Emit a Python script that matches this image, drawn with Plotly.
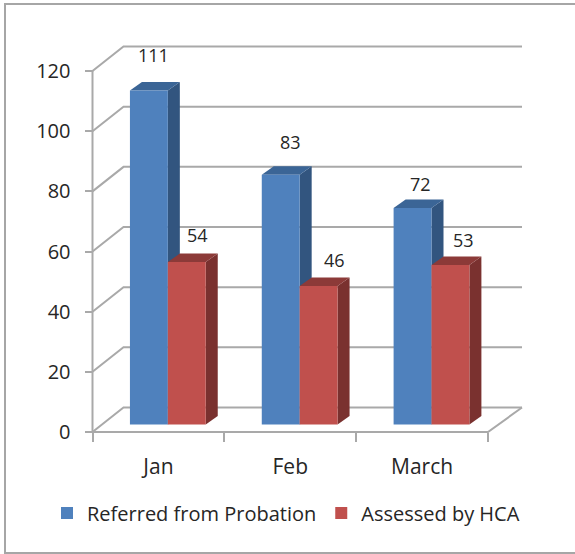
import plotly.graph_objects as go

categories = ["Jan", "Feb", "March"]
referred = [111, 83, 72]
assessed = [54, 46, 53]
series_names = ["Referred from Probation", "Assessed by HCA"]
y_ticks = [0, 20, 40, 60, 80, 100, 120]

# geometry: the plot area fills the page, axes are placed where the box sits
W, H = 575, 554
L, R, T, B = 92.5, 522, 46, 432
PX_X = 131.83
PX_Y = 3.008
XMAX = (R - L) / PX_X
WALL_DX, WALL_DY = 31 / PX_X, 24.5 / PX_Y
BAR_DX, BAR_DY = 12 / PX_X, 8.5 / PX_Y
BAR_BASE = 2.5
BAR_W = 0.2875
BAR_START = 0.284
GRID = "#A9A9A9"
TEXT = "#262626"
FONT = "Open Sans"
styles = [
    dict(front="#4F81BD", side="#32557F", top="#3B6596"),
    dict(front="#C0504D", side="#7A312F", top="#8C3A38"),
]
label_dx = [[5, 10, 7.5], [11, 16, 13]]
label_dy = [[36, 33, 24], [27, 26, 25]]

fig = go.Figure()


def line(xs, ys):
    fig.add_trace(go.Scatter(x=xs, y=ys, mode="lines", showlegend=False, hoverinfo="skip",
                             cliponaxis=False, line=dict(color=GRID, width=2)))


def poly(xs, ys, color):
    fig.add_trace(go.Scatter(x=xs + xs[:1], y=ys + ys[:1], mode="lines", fill="toself", fillcolor=color,
                             line=dict(width=0, color=color), showlegend=False, hoverinfo="skip",
                             cliponaxis=False))


for v in y_ticks:
    line([0, WALL_DX, XMAX], [v, v + WALL_DY, v + WALL_DY])
line([0, 0], [0, y_ticks[-1]])
line([0, 3, XMAX], [0, 0, WALL_DY])

annotations = []
for s, values in enumerate([referred, assessed]):
    st = styles[s]
    for i, v in enumerate(values):
        x0 = i + BAR_START + s * BAR_W
        x1 = x0 + BAR_W
        top = BAR_BASE + v
        poly([x1, x1 + BAR_DX, x1 + BAR_DX, x1], [BAR_BASE, BAR_BASE + BAR_DY, top + BAR_DY, top], st["side"])
        poly([x0, x0 + BAR_DX, x1 + BAR_DX, x1], [top, top + BAR_DY, top + BAR_DY, top], st["top"])
        poly([x0, x1, x1, x0], [BAR_BASE, BAR_BASE, top, top], st["front"])
        annotations.append(dict(x=(x0 + x1) / 2, y=top, text=str(v), showarrow=False,
                                xshift=label_dx[s][i], yshift=label_dy[s][i],
                                font=dict(family=FONT, size=18, color=TEXT)))
    fig.add_trace(go.Scatter(x=[None], y=[None], mode="markers", name=series_names[s],
                             marker=dict(symbol="square", size=12, color=st["front"])))

frame = dict(type="path", xref="paper", yref="paper",
             path=f"M 1 {1 - 4 / H} L {5 / W} {1 - 4 / H} L {5 / W} {1 - 553 / H} L 1 {1 - 553 / H}",
             line=dict(color="#A6A6A6", width=2))

fig.update_layout(
    width=W, height=H, autosize=False,
    margin=dict(l=0, r=0, t=0, b=0),
    paper_bgcolor="white", plot_bgcolor="white",
    shapes=[frame], annotations=annotations,
    xaxis=dict(range=[-L / PX_X, (W - L) / PX_X], anchor="free", position=1 - B / H,
               showgrid=False, zeroline=False, showline=False,
               tickvals=[0.5, 1.5, 2.5], ticktext=categories, ticks="", ticklabelstandoff=20,
               tickfont=dict(family=FONT, size=21, color=TEXT),
               minor=dict(tickvals=[0, 1, 2, 3], ticks="outside", ticklen=9, tickwidth=2, tickcolor=GRID)),
    yaxis=dict(range=[(B - H) / PX_Y, B / PX_Y], anchor="free", position=L / W,
               showgrid=False, zeroline=False, showline=False,
               tickvals=y_ticks, ticks="outside", ticklen=8, tickwidth=2, tickcolor=GRID,
               ticklabelstandoff=10,
               tickfont=dict(family=FONT, size=20, color=TEXT)),
    legend=dict(orientation="h", x=47 / W, xanchor="left", y=1 - 513 / H, yanchor="middle",
                font=dict(family=FONT, size=20, color=TEXT), bgcolor="rgba(0,0,0,0)"),
)

fig.write_html("out.html", config=dict(displayModeBar=False),
               post_script="document.body.style.margin='0';")
